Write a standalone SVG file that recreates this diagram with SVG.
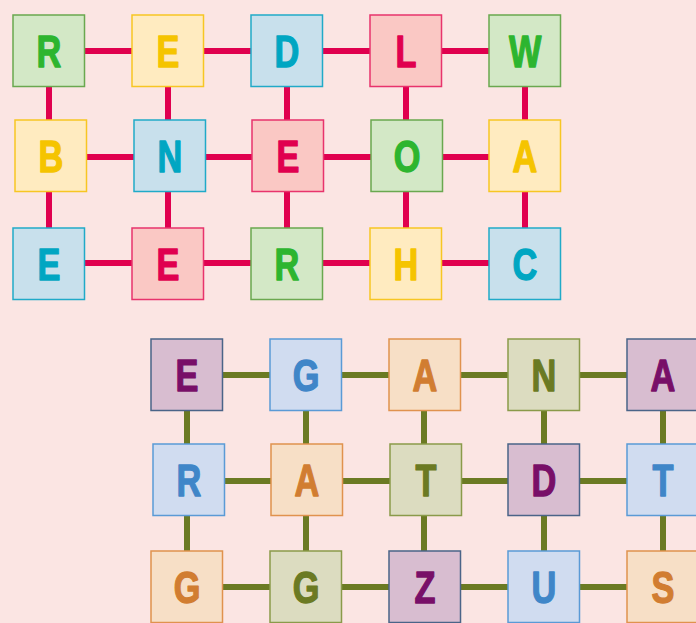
<svg xmlns="http://www.w3.org/2000/svg" width="696" height="623" viewBox="0 0 696 623">
<style>
.bx{stroke-width:1.5}
.t{font-family:"Liberation Sans",Arial,sans-serif;font-weight:bold;font-size:44px;text-anchor:middle;fill:currentColor;stroke:currentColor;stroke-width:1.3;stroke-linejoin:round;transform-box:fill-box;transform-origin:center;transform:scaleX(0.78)}
.gr rect{fill:#d3e8c6;stroke:#6aa84f}.gr text{color:#2db52f}
.ye rect{fill:#ffebc0;stroke:#f7c623}.ye text{color:#f5c400}
.bl rect{fill:#c8e0ec;stroke:#20aac8}.bl text{color:#00a6c2}
.pk rect{fill:#fac8c4;stroke:#e8336c}.pk text{color:#e0004f}
.pu rect{fill:#d8bdd0;stroke:#4a6488}.pu text{color:#780f68}
.lb rect{fill:#d0dcf0;stroke:#5a9ad6}.lb text{color:#3f86c8}
.or rect{fill:#f7dfc6;stroke:#e0924e}.or text{color:#d17d31}
.ol rect{fill:#dcdcc0;stroke:#8a9a4a}.ol text{color:#6b7a23}
.c1{stroke:#e0004f;stroke-width:6;fill:none}
.c2{stroke:#6b7a23;stroke-width:6;fill:none}
</style>
<rect width="696" height="623" fill="#fbe5e3"/>
<g id="connectors">
<path class="c1" d="M49 51H525M49 157H525M49 263H525M49 51V263M168 51V263M287 51V263M406 51V263M525 51V263"/>
<path class="c2" d="M187 375H696M187 481H696M187 587H696M187 375V623M306 375V623M424 375V623M544 375V623M663 375V623"/>
</g>
<g id="n1" class="gr"><rect class="bx" x="13" y="15" width="71.5" height="71.5"/><text class="t" x="49" y="67">R</text></g>
<g id="n2" class="ye"><rect class="bx" x="132" y="15" width="71.5" height="71.5"/><text class="t" x="168" y="67">E</text></g>
<g id="n3" class="bl"><rect class="bx" x="251" y="15" width="71.5" height="71.5"/><text class="t" x="287" y="67">D</text></g>
<g id="n4" class="pk"><rect class="bx" x="370" y="15" width="71.5" height="71.5"/><text class="t" x="406" y="67">L</text></g>
<g id="n5" class="gr"><rect class="bx" x="489" y="15" width="71.5" height="71.5"/><text class="t" x="525" y="67">W</text></g>
<g id="n6" class="ye"><rect class="bx" x="15" y="120" width="71.5" height="71.5"/><text class="t" x="51" y="172">B</text></g>
<g id="n7" class="bl"><rect class="bx" x="134" y="120" width="71.5" height="71.5"/><text class="t" x="170" y="172">N</text></g>
<g id="n8" class="pk"><rect class="bx" x="252" y="120" width="71.5" height="71.5"/><text class="t" x="288" y="172">E</text></g>
<g id="n9" class="gr"><rect class="bx" x="371" y="120" width="71.5" height="71.5"/><text class="t" x="407" y="172">O</text></g>
<g id="n10" class="ye"><rect class="bx" x="489" y="120" width="71.5" height="71.5"/><text class="t" x="525" y="172">A</text></g>
<g id="n11" class="bl"><rect class="bx" x="13" y="228" width="71.5" height="71.5"/><text class="t" x="49" y="280">E</text></g>
<g id="n12" class="pk"><rect class="bx" x="132" y="228" width="71.5" height="71.5"/><text class="t" x="168" y="280">E</text></g>
<g id="n13" class="gr"><rect class="bx" x="251" y="228" width="71.5" height="71.5"/><text class="t" x="287" y="280">R</text></g>
<g id="n14" class="ye"><rect class="bx" x="370" y="228" width="71.5" height="71.5"/><text class="t" x="406" y="280">H</text></g>
<g id="n15" class="bl"><rect class="bx" x="489" y="228" width="71.5" height="71.5"/><text class="t" x="525" y="280">C</text></g>
<g id="m1" class="pu"><rect class="bx" x="151" y="339" width="71.5" height="71.5"/><text class="t" x="187" y="391">E</text></g>
<g id="m2" class="lb"><rect class="bx" x="270" y="339" width="71.5" height="71.5"/><text class="t" x="306" y="391">G</text></g>
<g id="m3" class="or"><rect class="bx" x="389" y="339" width="71.5" height="71.5"/><text class="t" x="425" y="391">A</text></g>
<g id="m4" class="ol"><rect class="bx" x="508" y="339" width="71.5" height="71.5"/><text class="t" x="544" y="391">N</text></g>
<g id="m5" class="pu"><rect class="bx" x="627" y="339" width="71.5" height="71.5"/><text class="t" x="663" y="391">A</text></g>
<g id="m6" class="lb"><rect class="bx" x="153" y="444" width="71.5" height="71.5"/><text class="t" x="189" y="496">R</text></g>
<g id="m7" class="or"><rect class="bx" x="271" y="444" width="71.5" height="71.5"/><text class="t" x="307" y="496">A</text></g>
<g id="m8" class="ol"><rect class="bx" x="390" y="444" width="71.5" height="71.5"/><text class="t" x="426" y="496">T</text></g>
<g id="m9" class="pu"><rect class="bx" x="508" y="444" width="71.5" height="71.5"/><text class="t" x="544" y="496">D</text></g>
<g id="m10" class="lb"><rect class="bx" x="627" y="444" width="71.5" height="71.5"/><text class="t" x="663" y="496">T</text></g>
<g id="m11" class="or"><rect class="bx" x="151" y="551" width="71.5" height="71.5"/><text class="t" x="187" y="603">G</text></g>
<g id="m12" class="ol"><rect class="bx" x="270" y="551" width="71.5" height="71.5"/><text class="t" x="306" y="603">G</text></g>
<g id="m13" class="pu"><rect class="bx" x="389" y="551" width="71.5" height="71.5"/><text class="t" x="425" y="603">Z</text></g>
<g id="m14" class="lb"><rect class="bx" x="508" y="551" width="71.5" height="71.5"/><text class="t" x="544" y="603">U</text></g>
<g id="m15" class="or"><rect class="bx" x="627" y="551" width="71.5" height="71.5"/><text class="t" x="663" y="603">S</text></g>
</svg>
